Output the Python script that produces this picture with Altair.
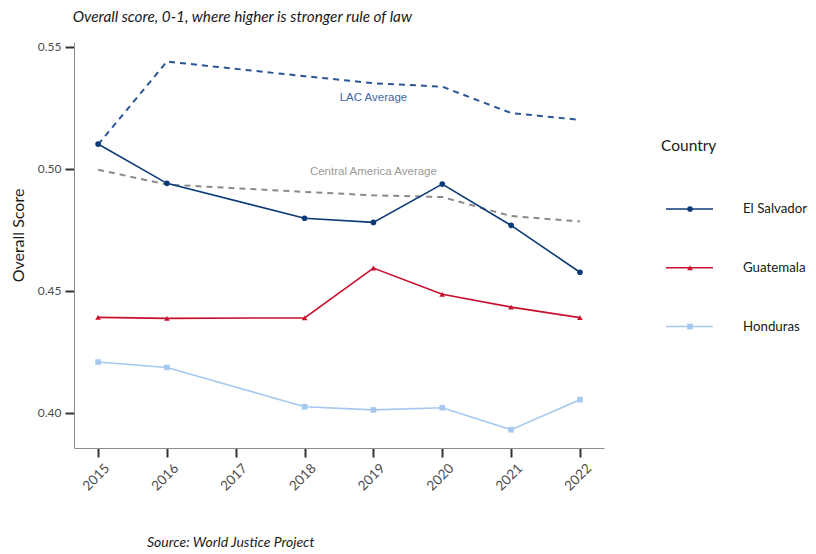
import altair as alt
import pandas as pd

# ---- data ----
years = [2015, 2016, 2018, 2019, 2020, 2021, 2022]
el_salvador = [0.5101, 0.4940, 0.4797, 0.4780, 0.4937, 0.4768, 0.4576]
guatemala = [0.4391, 0.4387, 0.4389, 0.4593, 0.4486, 0.4433, 0.4390]
honduras = [0.4208, 0.4186, 0.4025, 0.4012, 0.4021, 0.3931, 0.4054]
lac_avg = [0.5099, 0.5439, 0.5379, 0.5350, 0.5336, 0.5228, 0.5200]
ca_avg = [0.4996, 0.4935, 0.4905, 0.4891, 0.4884, 0.4806, 0.4784]

countries = ["El Salvador", "Guatemala", "Honduras"]
country_colors = ["#0b3a77", "#c8102e", "#a6c8ee"]
country_shapes = ["circle", "triangle-up", "square"]
x_ticks = [2015, 2016, 2017, 2018, 2019, 2020, 2021, 2022]
y_ticks = [0.40, 0.45, 0.50, 0.55]
annot_labels = ["LAC Average", "Central America Average"]
annot_x = [2019, 2019]
annot_y = [0.530, 0.500]

title_text = "Overall score, 0-1, where higher is stronger rule of law"
caption_text = "Source: World Justice Project"

# ---- tables ----
series = {"El Salvador": el_salvador, "Guatemala": guatemala, "Honduras": honduras}
df = pd.DataFrame(
    [{"Year": y, "Score": v, "Country": c} for c, vals in series.items() for y, v in zip(years, vals)]
)
df_lac = pd.DataFrame({"Year": years, "Score": lac_avg})
df_ca = pd.DataFrame({"Year": years, "Score": ca_avg})
df_lab = pd.DataFrame({"Year": annot_x, "Score": annot_y, "label": annot_labels})
df_leg = pd.DataFrame({"Country": countries})

W, H = 530, 406
FONT = "Lato"

x_enc = alt.X(
    "Year:Q",
    scale=alt.Scale(domain=[2014.65, 2022.35], nice=False, zero=False),
    axis=alt.Axis(values=x_ticks, format="d", labelAngle=-45, title=None,
                  labelFontSize=13.5, labelOffset=4),
)
y_enc = alt.Y(
    "Score:Q",
    scale=alt.Scale(domain=[0.3856, 0.5519], nice=False, zero=False),
    axis=alt.Axis(values=y_ticks, format=".2f", title="Overall Score",
                  titlePadding=10.5, titleY=193),
)
color_scale = alt.Scale(domain=countries, range=country_colors)
shape_scale = alt.Scale(domain=countries, range=country_shapes)

lac_line = alt.Chart(df_lac).mark_line(
    strokeDash=[6, 5], strokeWidth=2, color="#2a5597"
).encode(x=x_enc, y=y_enc)
ca_line = alt.Chart(df_ca).mark_line(
    strokeDash=[6, 5], strokeWidth=2, color="#8a8a8a"
).encode(x=x_enc, y=y_enc)

base = alt.Chart(df).encode(
    x=x_enc, y=y_enc,
    color=alt.Color("Country:N", scale=color_scale, legend=None),
)
lines = base.mark_line(strokeWidth=1.6)
points = base.mark_point(filled=True, size=32, opacity=1).encode(
    shape=alt.Shape("Country:N", scale=shape_scale, legend=None)
)

lab_lac = alt.Chart(df_lab.iloc[[0]]).mark_text(
    font="Liberation Sans", fontSize=11.5, color="#3d66a6", baseline="middle", dy=3
).encode(x=x_enc, y=y_enc, text="label:N")
lab_ca = alt.Chart(df_lab.iloc[[1]]).mark_text(
    font="Liberation Sans", fontSize=11.5, color="#9a9a9a", baseline="middle", dy=3
).encode(x=x_enc, y=y_enc, text="label:N")

caption = alt.Chart(pd.DataFrame({"t": [caption_text]})).mark_text(
    align="left", baseline="alphabetic", font=FONT, fontStyle="italic",
    fontSize=14, color="#1a1a1a"
).encode(text="t:N", x=alt.value(73), y=alt.value(505))

main = alt.layer(ca_line, lac_line, lines, points, lab_lac, lab_ca, caption).properties(
    width=W, height=H
)

# ---- legend panel ----
leg_y = alt.Y(
    "Country:N",
    scale=alt.Scale(type="point", domain=countries, range=[167, 284.5], padding=0),
    axis=None,
)
leg_base = alt.Chart(df_leg).encode(
    y=leg_y, color=alt.Color("Country:N", scale=color_scale, legend=None)
)
leg_rule = leg_base.mark_rule(strokeWidth=1.6).encode(x=alt.value(0), x2=alt.value(47))
leg_pts = leg_base.mark_point(filled=True, size=32, opacity=1).encode(
    x=alt.value(24), shape=alt.Shape("Country:N", scale=shape_scale, legend=None)
)
leg_txt = alt.Chart(df_leg).mark_text(
    align="left", baseline="middle", font=FONT, fontSize=13.3, color="#1a1a1a"
).encode(y=leg_y, x=alt.value(77), text="Country:N")
leg_title = alt.Chart(pd.DataFrame({"t": ["Country"]})).mark_text(
    align="left", baseline="alphabetic", font=FONT, fontSize=15.5, color="#1a1a1a"
).encode(text="t:N", x=alt.value(-5), y=alt.value(109))

legend_panel = alt.layer(leg_rule, leg_pts, leg_txt, leg_title).properties(width=100, height=H)

chart = (
    alt.hconcat(main, legend_panel, spacing=62, bounds="flush")
    .properties(
        padding={"top": 2, "left": 2, "right": 0, "bottom": 0},
        title=alt.TitleParams(
            text=title_text, anchor="start", font=FONT, fontStyle="italic",
            fontSize=15.3, fontWeight="normal", color="#1a1a1a", dx=62, offset=15,
        ),
    )
    .configure_view(stroke=None)
    .configure_axis(
        grid=False,
        labelFont=FONT, labelFontSize=12, labelColor="#4d4d4d", labelPadding=4,
        titleFont=FONT, titleFontSize=16, titleFontWeight="normal", titleColor="#1a1a1a",
        domainColor="#8c8c8c", domainWidth=1,
        tickColor="#333333", tickWidth=2, tickSize=9,
    )
)

chart.save("out.html", embed_options={"renderer": "svg", "actions": False})
